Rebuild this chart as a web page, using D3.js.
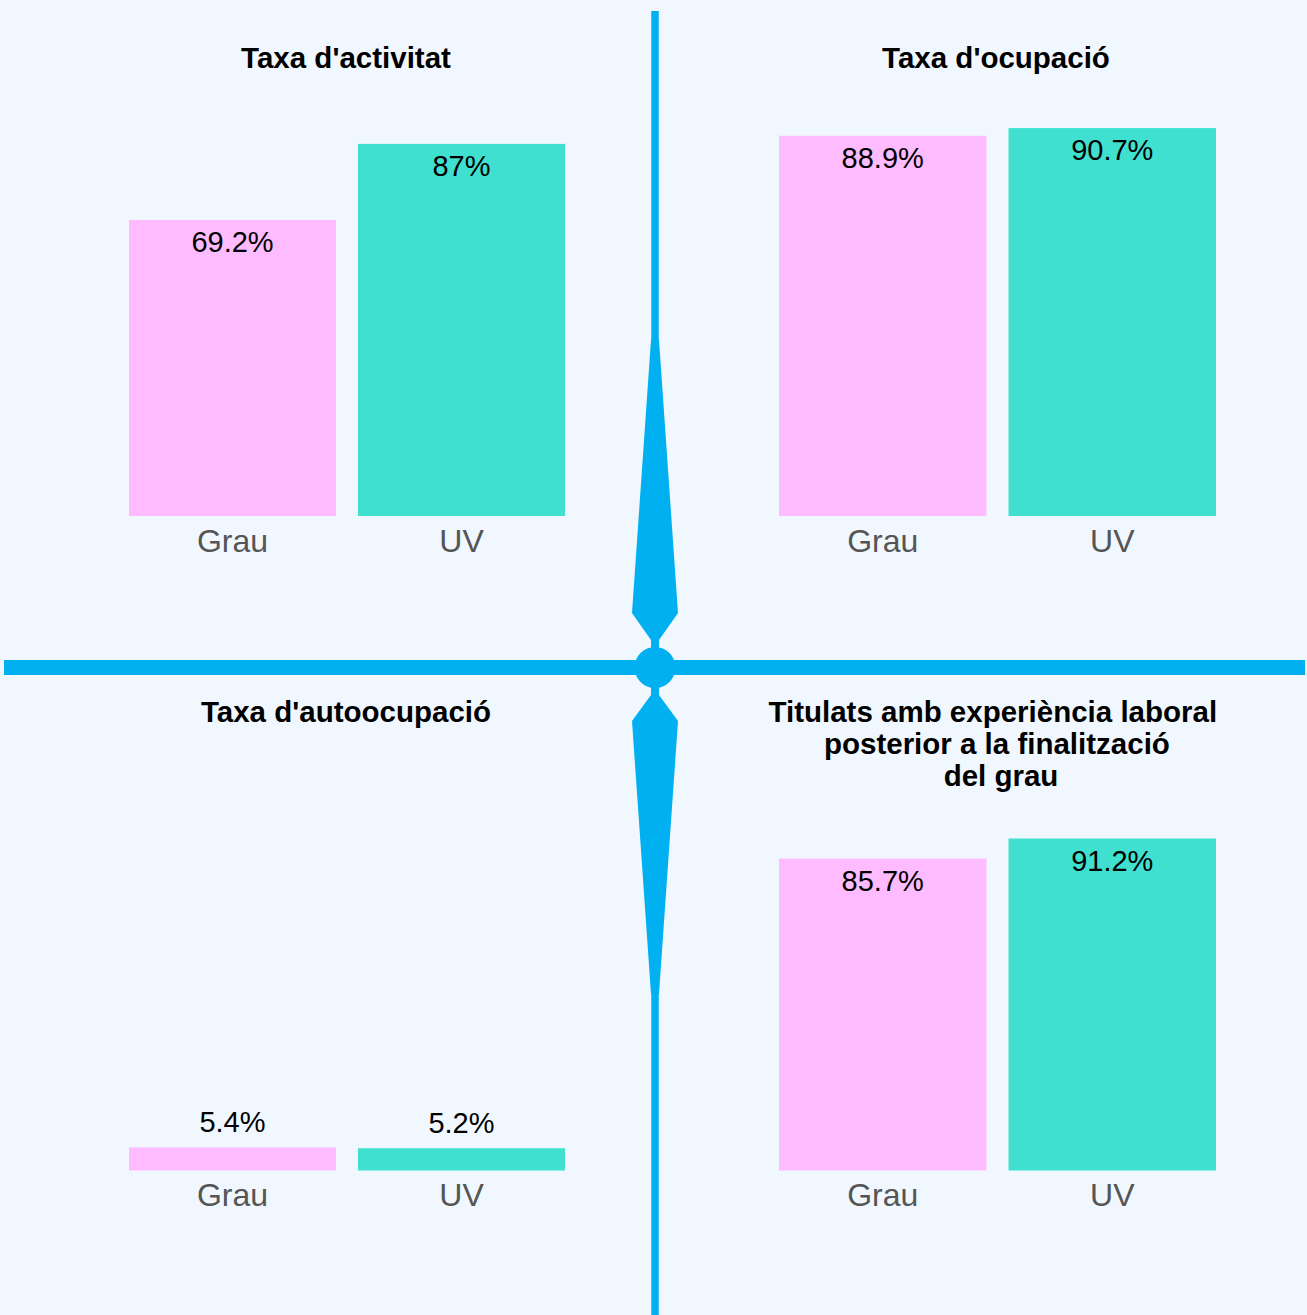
<!DOCTYPE html>
<html>
<head>
<meta charset="utf-8">
<script src="https://cdn.jsdelivr.net/npm/d3@7"></script>
<style>
  html, body { margin: 0; padding: 0; background: #f0f7fe; }
  svg { display: block; font-family: "Liberation Sans", Arial, sans-serif; }
</style>
</head>
<body>
<div class="chart"></div>
<script>
// data
const categories = ["Grau", "UV"];
const titles = [
  ["Taxa d'activitat"],
  ["Taxa d'ocupació"],
  ["Taxa d'autoocupació"],
  ["Titulats amb experiència laboral  ", "posterior a la finalització ", "del grau"]
];
const grauValues = [69.2, 88.9, 5.4, 85.7];
const uvValues = [87, 90.7, 5.2, 91.2];

const w = 1307;
const h = 1315;
const lineColor = "#00b0f0";
const colors = { Grau: "#ffbbff", UV: "#40e0d0" };

const svg = d3.select(".chart")
  .append("svg")
  .attr("width", w)
  .attr("height", h)
  .style("background-color", "#f0f7fe");

// panel layout: x range of bars, y bottom, y of 100%, title position
const layout = [
  { x0: 129, x1: 565, bottom: 516,   top: 88.3,  tx: 346, ty: 68 },
  { x0: 779, x1: 1216, bottom: 516,  top: 88.3,  tx: 996, ty: 68 },
  { x0: 129, x1: 565, bottom: 1170.5, top: 742.8, tx: 346, ty: 722 },
  { x0: 779, x1: 1216, bottom: 1170.5, top: 806.5, tx: 1001, ty: 722 }
];

layout.forEach(function(p, i) {
  const g = svg.append("g");
  const x = d3.scaleBand().domain(categories).range([p.x0, p.x1]).paddingInner(0.096).paddingOuter(0);
  const y = d3.scaleLinear().domain([0, 100]).range([p.bottom, p.top]);
  const data = [{ k: "Grau", v: grauValues[i] }, { k: "UV", v: uvValues[i] }];

  // title
  const t = g.append("text")
    .attr("x", p.tx)
    .attr("y", p.ty)
    .attr("text-anchor", "middle")
    .style("font-size", "29.5px")
    .style("font-weight", "bold")
    .style("white-space", "pre")
    .attr("fill", "#000");
  titles[i].forEach(function(line, j) {
    t.append("tspan").attr("x", p.tx).attr("dy", j === 0 ? 0 : 32).text(line);
  });

  g.selectAll("rect")
    .data(data)
    .enter()
    .append("rect")
    .attr("x", d => x(d.k))
    .attr("y", d => y(d.v))
    .attr("width", x.bandwidth())
    .attr("height", d => y(0) - y(d.v))
    .attr("fill", d => colors[d.k]);

  // value labels: inside the bar top, or above when the bar is short
  g.selectAll(".val")
    .data(data)
    .enter()
    .append("text")
    .attr("class", "val")
    .attr("x", d => x(d.k) + x.bandwidth() / 2)
    .attr("y", d => (y(0) - y(d.v) > 50) ? y(d.v) + 32 : y(d.v) - 15)
    .attr("text-anchor", "middle")
    .style("font-size", "29px")
    .attr("fill", "#000")
    .text(d => d.v + "%");

  // category axis labels
  const axis = g.append("g")
    .attr("transform", "translate(0," + p.bottom + ")")
    .call(d3.axisBottom(x).tickSize(0).tickPadding(13));
  axis.select(".domain").remove();
  axis.selectAll("text")
    .style("font-size", "32px")
    .style("font-family", "'Liberation Sans', Arial, sans-serif")
    .attr("fill", "#555");
});

// the cross in the middle
const cx = 655, cy = 667.5;
svg.append("line")
  .attr("x1", cx).attr("x2", cx)
  .attr("y1", 11).attr("y2", h)
  .attr("stroke", lineColor)
  .attr("stroke-width", 7.5);
svg.append("line")
  .attr("x1", 4).attr("x2", 1305)
  .attr("y1", cy).attr("y2", cy)
  .attr("stroke", lineColor)
  .attr("stroke-width", 15);

const spindle = [
  [cx - 4, 340], [cx + 4, 340], [cx + 23, 613], [cx + 4, 640],
  [cx + 4, 695], [cx + 23, 721], [cx + 4, 994], [cx - 4, 994],
  [cx - 23, 721], [cx - 4, 695], [cx - 4, 640], [cx - 23, 613]
];
svg.append("polygon")
  .attr("points", spindle.map(d => d.join(",")).join(" "))
  .attr("fill", lineColor);
svg.append("circle")
  .attr("cx", cx).attr("cy", cy)
  .attr("r", 20.5)
  .attr("fill", lineColor);
</script>
</body>
</html>
